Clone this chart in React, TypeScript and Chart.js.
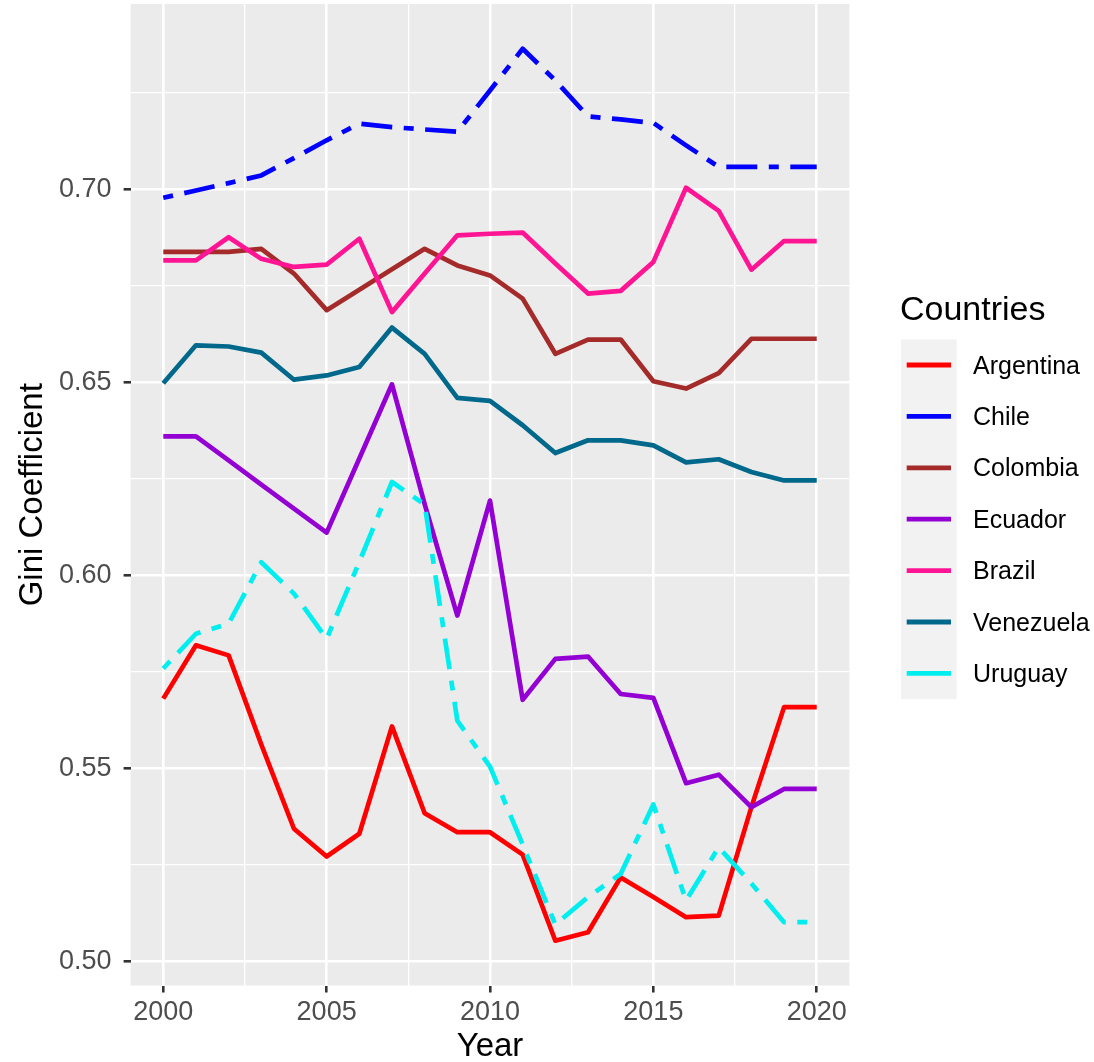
import React, { useEffect, useRef } from 'react';
import { Chart, registerables } from 'chart.js';

Chart.register(...registerables);

const FONT = '"Liberation Sans", Arial, Helvetica, sans-serif';

// ---- data ----
const years = [2000, 2001, 2002, 2003, 2004, 2005, 2006, 2007, 2008, 2009, 2010, 2011, 2012, 2013, 2014, 2015, 2016, 2017, 2018, 2019, 2020];

const argentina = [0.5681, 0.5819, 0.5793, 0.5562, 0.5344, 0.5272, 0.5331, 0.5609, 0.5384, 0.5335, 0.5335, 0.5277, 0.5054, 0.5076, 0.5218, 0.5167, 0.5115, 0.5119, 0.5400, 0.5659, 0.5659];
const chile = [0.6978, 0.6997, 0.7016, 0.7036, 0.7081, 0.7127, 0.7170, 0.7161, 0.7155, 0.7149, 0.7256, 0.7364, 0.7282, 0.7189, 0.7181, 0.7172, 0.7114, 0.7058, 0.7058, 0.7058, 0.7058];
const colombia = [0.6838, 0.6838, 0.6838, 0.6846, 0.6782, 0.6687, 0.6740, 0.6793, 0.6846, 0.6803, 0.6777, 0.6717, 0.6574, 0.6611, 0.6611, 0.6503, 0.6484, 0.6524, 0.6613, 0.6613, 0.6613];
const ecuador = [0.6360, 0.6360, 0.6298, 0.6235, 0.6173, 0.6111, 0.6303, 0.6495, 0.6185, 0.5896, 0.6194, 0.5678, 0.5784, 0.5790, 0.5693, 0.5683, 0.5462, 0.5484, 0.5400, 0.5447, 0.5447];
const brazil = [0.6816, 0.6816, 0.6876, 0.6820, 0.6799, 0.6805, 0.6872, 0.6682, 0.6782, 0.6881, 0.6885, 0.6888, 0.6808, 0.6730, 0.6737, 0.6812, 0.7004, 0.6944, 0.6792, 0.6866, 0.6866];
const venezuela = [0.6498, 0.6596, 0.6593, 0.6577, 0.6507, 0.6518, 0.6540, 0.6642, 0.6574, 0.6460, 0.6452, 0.6389, 0.6317, 0.6350, 0.6350, 0.6337, 0.6293, 0.6301, 0.6268, 0.6246, 0.6246];
const uruguay = [0.5759, 0.5849, 0.5875, 0.6034, 0.5953, 0.5836, 0.6035, 0.6242, 0.6184, 0.5624, 0.5505, 0.5303, 0.5096, 0.5167, 0.5227, 0.5407, 0.5158, 0.5296, 0.5202, 0.5102, 0.5102];

const countries = ['Argentina', 'Chile', 'Colombia', 'Ecuador', 'Brazil', 'Venezuela', 'Uruguay'];
const seriesValues = [argentina, chile, colombia, ecuador, brazil, venezuela, uruguay];
const colors = ['#FF0000', '#0000FF', '#A52A2A', '#9400D3', '#FF1493', '#00688B', '#00EEEE'];
const dashed = [false, true, false, false, false, false, true];

const xMajorTicks = [2000, 2005, 2010, 2015, 2020];
const xMinorTicks = [2002.5, 2007.5, 2012.5, 2017.5];
const yMajorTicks = [0.5, 0.55, 0.6, 0.65, 0.7];
const yMinorTicks = [0.525, 0.575, 0.625, 0.675, 0.725];

const xTitle = 'Year';
const yTitle = 'Gini Coefficient';
const legendTitle = 'Countries';

const isMajor = (list: number[], v: number) => list.some((m) => Math.abs(m - v) < 1e-9);

const panelBg = {
  id: 'panelBg',
  beforeDraw(chart: any) {
    const { ctx, chartArea: a } = chart;
    ctx.save();
    ctx.fillStyle = '#EBEBEB';
    ctx.fillRect(a.left, a.top, a.right - a.left, a.bottom - a.top);
    ctx.restore();
  },
};

const ggLegend = {
  id: 'ggLegend',
  afterDraw(chart: any) {
    const ctx = chart.ctx;
    ctx.save();
    ctx.textAlign = 'left';
    ctx.textBaseline = 'alphabetic';
    ctx.fillStyle = '#000000';
    ctx.font = `34px ${FONT}`;
    ctx.fillText(legendTitle, 900, 320);
    const top = 339.3;
    const step = 51.4;
    ctx.fillStyle = '#F2F2F2';
    ctx.fillRect(901, top, 55.7, step * countries.length);
    countries.forEach((c, i) => {
      const y = top + step / 2 + i * step;
      ctx.strokeStyle = colors[i];
      ctx.lineWidth = 4.8;
      ctx.lineCap = 'butt';
      ctx.setLineDash([]);
      ctx.beginPath();
      ctx.moveTo(906.7, y);
      ctx.lineTo(951, y);
      ctx.stroke();
      ctx.fillStyle = '#000000';
      ctx.font = `25px ${FONT}`;
      ctx.fillText(c, 973, y + 8.5);
    });
    ctx.restore();
  },
};

export default function App() {
  const ref = useRef<HTMLCanvasElement | null>(null);

  useEffect(() => {
    if (!ref.current) return;
    const datasets = countries.map((c, i) => ({
      label: c,
      data: years.map((yr, j) => ({ x: yr, y: seriesValues[i][j] })),
      borderColor: colors[i],
      backgroundColor: colors[i],
      borderWidth: 4.7,
      borderDash: dashed[i] ? [10, 11.5, 31, 11.5] : [],
      borderJoinStyle: 'round' as const,
      borderCapStyle: 'butt' as const,
      pointRadius: 0,
      fill: false,
      tension: 0,
      order: countries.length - i,
    }));

    const chart = new Chart(ref.current, {
      type: 'line',
      data: { datasets },
      options: {
        responsive: false,
        animation: false,
        devicePixelRatio: 1,
        layout: { padding: { left: 0, right: 244.6, top: 4, bottom: 0 } },
        plugins: { legend: { display: false }, tooltip: { enabled: false } },
        scales: {
          x: {
            type: 'linear',
            min: 1999,
            max: 2021,
            afterBuildTicks: (s: any) => {
              s.ticks = [...xMajorTicks, ...xMinorTicks].sort((a, b) => a - b).map((v) => ({ value: v }));
            },
            afterFit: (s: any) => {
              s.height = 76.5;
              s.paddingLeft = 0;
              s.paddingRight = 0;
            },
            ticks: {
              autoSkip: false,
              maxRotation: 0,
              padding: 4,
              color: '#4D4D4D',
              font: { family: FONT, size: 27 },
              callback: (v: any) => (isMajor(xMajorTicks, Number(v)) ? String(v) : ''),
            },
            grid: {
              color: '#FFFFFF',
              lineWidth: (c: any) => (c.tick && isMajor(xMajorTicks, c.tick.value) ? 2.6 : 1.3),
              drawTicks: true,
              tickLength: 7,
              tickWidth: 2.6,
              tickColor: (c: any) => (c.tick && isMajor(xMajorTicks, c.tick.value) ? '#333333' : 'rgba(0,0,0,0)'),
            },
            border: { display: false },
            title: {
              display: true,
              text: xTitle,
              color: '#000000',
              font: { family: FONT, size: 33, lineHeight: 1.0 },
              padding: { top: 0, bottom: -1 },
            },
          },
          y: {
            type: 'linear',
            min: 0.4938,
            max: 0.748,
            afterBuildTicks: (s: any) => {
              s.ticks = [...yMajorTicks, ...yMinorTicks].sort((a, b) => a - b).map((v) => ({ value: v }));
            },
            afterFit: (s: any) => {
              s.width = 130.6;
              s.paddingTop = 0;
              s.paddingBottom = 0;
            },
            ticks: {
              autoSkip: false,
              padding: 12,
              color: '#4D4D4D',
              font: { family: FONT, size: 27 },
              callback: (v: any) => (isMajor(yMajorTicks, Number(v)) ? Number(v).toFixed(2) : ''),
            },
            grid: {
              color: '#FFFFFF',
              lineWidth: (c: any) => (c.tick && isMajor(yMajorTicks, c.tick.value) ? 2.6 : 1.3),
              drawTicks: true,
              tickLength: 7,
              tickWidth: 2.6,
              tickColor: (c: any) => (c.tick && isMajor(yMajorTicks, c.tick.value) ? '#333333' : 'rgba(0,0,0,0)'),
            },
            border: { display: false },
            title: {
              display: true,
              text: yTitle,
              color: '#000000',
              font: { family: FONT, size: 33, lineHeight: 1.2 },
              padding: { top: 13, bottom: 0 },
            },
          },
        },
      },
      plugins: [panelBg, ggLegend],
    });

    return () => chart.destroy();
  }, []);

  return (
    <div style={{ position: 'absolute', left: 0, top: 0, width: 1094, height: 1062, background: '#FFFFFF' }}>
      <canvas ref={ref} width={1094} height={1062} style={{ display: 'block', width: 1094, height: 1062 }} />
    </div>
  );
}
